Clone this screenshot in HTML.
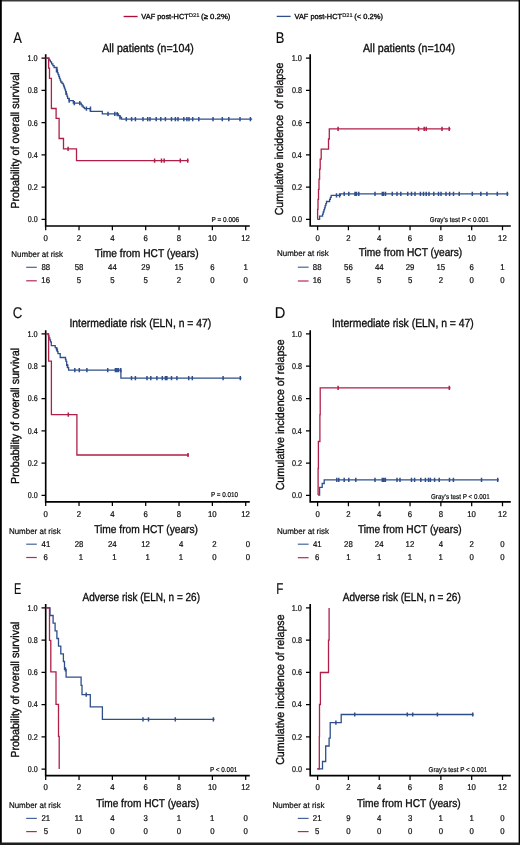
<!DOCTYPE html>
<html><head><meta charset="utf-8"><title>Figure</title>
<style>html,body{margin:0;padding:0;background:#fff;width:520px;height:845px;overflow:hidden}</style>
</head><body>
<svg width="520" height="845" viewBox="0 0 520 845" style="display:block;will-change:transform">
<g font-family='"Liberation Sans", sans-serif' fill="#0d0b0c" stroke="#0d0b0c" stroke-width="0.34" text-rendering="geometricPrecision">
<text x="141.37" y="19" font-size="7.4" textLength="47.4" lengthAdjust="spacingAndGlyphs">VAF post-HCT</text>
<text x="188.82" y="16.5" font-size="5.3" textLength="10.66" lengthAdjust="spacingAndGlyphs" stroke-width="0.15">D21</text>
<text x="201.12" y="19" font-size="7.4" textLength="29.26" lengthAdjust="spacingAndGlyphs">(≥ 0.2%)</text>
<text x="294.57" y="19" font-size="7.4" textLength="47.4" lengthAdjust="spacingAndGlyphs">VAF post-HCT</text>
<text x="342.24" y="16.5" font-size="5.3" textLength="10.34" lengthAdjust="spacingAndGlyphs" stroke-width="0.15">D21</text>
<text x="354.33" y="19" font-size="7.4" textLength="28.63" lengthAdjust="spacingAndGlyphs">(&lt; 0.2%)</text>
<text x="13.27" y="42.5" font-size="15.5" textLength="8.65" lengthAdjust="spacingAndGlyphs" stroke-width="0.12">A</text>
<text x="275.84" y="42.5" font-size="15.5" textLength="8.65" lengthAdjust="spacingAndGlyphs" stroke-width="0.12">B</text>
<text x="12.63" y="317.5" font-size="15.5" textLength="9.58" lengthAdjust="spacingAndGlyphs" stroke-width="0.12">C</text>
<text x="274.8" y="317.5" font-size="15.5" textLength="10.61" lengthAdjust="spacingAndGlyphs" stroke-width="0.12">D</text>
<text x="14.11" y="593.6" font-size="15.5" textLength="7.26" lengthAdjust="spacingAndGlyphs" stroke-width="0.12">E</text>
<text x="276.24" y="593.6" font-size="15.5" textLength="7.12" lengthAdjust="spacingAndGlyphs" stroke-width="0.12">F</text>
<text x="102.18" y="51.9" font-size="11.7" textLength="91.68" lengthAdjust="spacingAndGlyphs">All patients (n=104)</text>
<text x="362.98" y="51.9" font-size="11.7" textLength="91.98" lengthAdjust="spacingAndGlyphs">All patients (n=104)</text>
<text x="69.44" y="326.8" font-size="11.7" textLength="141.9" lengthAdjust="spacingAndGlyphs">Intermediate risk (ELN, n = 47)</text>
<text x="331.94" y="326.8" font-size="11.7" textLength="141.9" lengthAdjust="spacingAndGlyphs">Intermediate risk (ELN, n = 47)</text>
<text x="82.48" y="601" font-size="11.7" textLength="117.54" lengthAdjust="spacingAndGlyphs">Adverse risk (ELN, n = 26)</text>
<text x="342.68" y="601" font-size="11.7" textLength="118.14" lengthAdjust="spacingAndGlyphs">Adverse risk (ELN, n = 26)</text>
<text transform="translate(18.95,207.9) rotate(-90)" x="-0.88" y="0" font-size="11.6" textLength="136.5" lengthAdjust="spacingAndGlyphs">Probability of overall survival</text>
<text transform="translate(282.9,214.8) rotate(-90)" x="-0.54" y="0" font-size="11.6" textLength="152.71" lengthAdjust="spacingAndGlyphs">Cumulative incidence  of relapse</text>
<text transform="translate(18.95,483.1) rotate(-90)" x="-0.88" y="0" font-size="11.6" textLength="136" lengthAdjust="spacingAndGlyphs">Probability of overall survival</text>
<text transform="translate(283.8,489.8) rotate(-90)" x="-0.54" y="0" font-size="11.6" textLength="150.91" lengthAdjust="spacingAndGlyphs">Cumulative incidence of relapse</text>
<text transform="translate(18.95,756.9) rotate(-90)" x="-0.88" y="0" font-size="11.6" textLength="136.2" lengthAdjust="spacingAndGlyphs">Probability of overall survival</text>
<text transform="translate(283.8,764.3) rotate(-90)" x="-0.54" y="0" font-size="11.6" textLength="150.41" lengthAdjust="spacingAndGlyphs">Cumulative incidence of relapse</text>
<text x="94.67" y="256.5" font-size="11.4" textLength="103.96" lengthAdjust="spacingAndGlyphs">Time from HCT (years)</text>
<text x="358.77" y="255.6" font-size="11.4" textLength="103.45" lengthAdjust="spacingAndGlyphs">Time from HCT (years)</text>
<text x="94.17" y="533" font-size="11.4" textLength="103.86" lengthAdjust="spacingAndGlyphs">Time from HCT (years)</text>
<text x="357.97" y="532.8" font-size="11.4" textLength="103.66" lengthAdjust="spacingAndGlyphs">Time from HCT (years)</text>
<text x="96.17" y="807" font-size="11.4" textLength="103.05" lengthAdjust="spacingAndGlyphs">Time from HCT (years)</text>
<text x="356.97" y="807.2" font-size="11.4" textLength="103.66" lengthAdjust="spacingAndGlyphs">Time from HCT (years)</text>
<text x="11.35" y="256.8" font-size="8.2" textLength="51.74" lengthAdjust="spacingAndGlyphs" stroke-width="0.2">Number at risk</text>
<text x="277.05" y="256" font-size="8.2" textLength="51.74" lengthAdjust="spacingAndGlyphs" stroke-width="0.2">Number at risk</text>
<text x="8.95" y="533.8" font-size="8.2" textLength="51.74" lengthAdjust="spacingAndGlyphs" stroke-width="0.2">Number at risk</text>
<text x="276.94" y="533.8" font-size="8.2" textLength="52.15" lengthAdjust="spacingAndGlyphs" stroke-width="0.2">Number at risk</text>
<text x="8.95" y="807.6" font-size="8.2" textLength="51.74" lengthAdjust="spacingAndGlyphs" stroke-width="0.2">Number at risk</text>
<text x="272.44" y="807.6" font-size="8.2" textLength="51.94" lengthAdjust="spacingAndGlyphs" stroke-width="0.2">Number at risk</text>
<text x="211.47" y="222.1" font-size="7" textLength="27.71" lengthAdjust="spacingAndGlyphs" stroke-width="0.2">P = 0.006</text>
<text x="210.88" y="497" font-size="7" textLength="27.27" lengthAdjust="spacingAndGlyphs" stroke-width="0.2">P = 0.010</text>
<text x="209.98" y="771.8" font-size="7" textLength="27.23" lengthAdjust="spacingAndGlyphs" stroke-width="0.2">P &lt; 0.001</text>
<text x="429.78" y="222" font-size="7" textLength="59.13" lengthAdjust="spacingAndGlyphs" stroke-width="0.2">Gray’s test P &lt; 0.001</text>
<text x="430.98" y="498.8" font-size="7" textLength="58.72" lengthAdjust="spacingAndGlyphs" stroke-width="0.2">Gray’s test P &lt; 0.001</text>
<text x="428.59" y="772" font-size="7" textLength="58.62" lengthAdjust="spacingAndGlyphs" stroke-width="0.2">Gray’s test P &lt; 0.001</text>
<path d="M45.7 54.2V225.95H249.8" fill="none" stroke="#000" stroke-width="1.65"/>
<text x="27.72" y="222.25" font-size="8.4" textLength="9.96" lengthAdjust="spacingAndGlyphs" stroke-width="0.22">0.0</text>
<text x="27.72" y="190.01" font-size="8.4" textLength="10.05" lengthAdjust="spacingAndGlyphs" stroke-width="0.22">0.2</text>
<text x="27.72" y="157.77" font-size="8.4" textLength="9.89" lengthAdjust="spacingAndGlyphs" stroke-width="0.22">0.4</text>
<text x="27.72" y="125.53" font-size="8.4" textLength="10" lengthAdjust="spacingAndGlyphs" stroke-width="0.22">0.6</text>
<text x="27.72" y="93.29" font-size="8.4" textLength="9.99" lengthAdjust="spacingAndGlyphs" stroke-width="0.22">0.8</text>
<text x="27.44" y="61.05" font-size="8.4" textLength="10.25" lengthAdjust="spacingAndGlyphs" stroke-width="0.22">1.0</text>
<text x="43.53" y="241.3" font-size="8.4" textLength="4.34" lengthAdjust="spacingAndGlyphs" stroke-width="0.22">0</text>
<text x="76.86" y="241.3" font-size="8.4" textLength="4.34" lengthAdjust="spacingAndGlyphs" stroke-width="0.22">2</text>
<text x="110.22" y="241.3" font-size="8.4" textLength="4.34" lengthAdjust="spacingAndGlyphs" stroke-width="0.22">4</text>
<text x="143.5" y="241.3" font-size="8.4" textLength="4.34" lengthAdjust="spacingAndGlyphs" stroke-width="0.22">6</text>
<text x="176.86" y="241.3" font-size="8.4" textLength="4.34" lengthAdjust="spacingAndGlyphs" stroke-width="0.22">8</text>
<text x="207.88" y="241.3" font-size="8.4" textLength="8.69" lengthAdjust="spacingAndGlyphs" stroke-width="0.22">10</text>
<text x="241.25" y="241.3" font-size="8.4" textLength="8.69" lengthAdjust="spacingAndGlyphs" stroke-width="0.22">12</text>
<path d="M41.5 219.4H45.7M41.5 187.16H45.7M41.5 154.92H45.7M41.5 122.68H45.7M41.5 90.44H45.7M41.5 58.2H45.7M45.7 225.95V230.25M79.03 225.95V230.25M112.37 225.95V230.25M145.7 225.95V230.25M179.03 225.95V230.25M212.37 225.95V230.25M245.7 225.95V230.25" stroke="#000" stroke-width="1.25" fill="none"/>
<path d="M26.2 267.3H36.8" stroke="#46639f" stroke-width="1.2"/>
<path d="M26.2 280.8H36.8" stroke="#b52a52" stroke-width="1.2"/>
<text x="41.46" y="269.7" font-size="8.4" textLength="8.69" lengthAdjust="spacingAndGlyphs" stroke-width="0.22">88</text>
<text x="41.33" y="283" font-size="8.4" textLength="8.69" lengthAdjust="spacingAndGlyphs" stroke-width="0.22">16</text>
<text x="74.7" y="269.7" font-size="8.4" textLength="8.69" lengthAdjust="spacingAndGlyphs" stroke-width="0.22">58</text>
<text x="76.87" y="283" font-size="8.4" textLength="4.34" lengthAdjust="spacingAndGlyphs" stroke-width="0.22">5</text>
<text x="108.05" y="269.7" font-size="8.4" textLength="8.69" lengthAdjust="spacingAndGlyphs" stroke-width="0.22">44</text>
<text x="110.2" y="283" font-size="8.4" textLength="4.34" lengthAdjust="spacingAndGlyphs" stroke-width="0.22">5</text>
<text x="141.34" y="269.7" font-size="8.4" textLength="8.69" lengthAdjust="spacingAndGlyphs" stroke-width="0.22">29</text>
<text x="143.54" y="283" font-size="8.4" textLength="4.34" lengthAdjust="spacingAndGlyphs" stroke-width="0.22">5</text>
<text x="174.56" y="269.7" font-size="8.4" textLength="8.69" lengthAdjust="spacingAndGlyphs" stroke-width="0.22">15</text>
<text x="176.86" y="283" font-size="8.4" textLength="4.34" lengthAdjust="spacingAndGlyphs" stroke-width="0.22">2</text>
<text x="210.17" y="269.7" font-size="8.4" textLength="4.34" lengthAdjust="spacingAndGlyphs" stroke-width="0.22">6</text>
<text x="210.19" y="283" font-size="8.4" textLength="4.34" lengthAdjust="spacingAndGlyphs" stroke-width="0.22">0</text>
<text x="243.42" y="269.7" font-size="8.4" textLength="4.34" lengthAdjust="spacingAndGlyphs" stroke-width="0.22">1</text>
<text x="243.53" y="283" font-size="8.4" textLength="4.34" lengthAdjust="spacingAndGlyphs" stroke-width="0.22">0</text>
<path d="M310.2 54.2V225.95H510.8" fill="none" stroke="#000" stroke-width="1.65"/>
<text x="291.92" y="222.25" font-size="8.4" textLength="9.96" lengthAdjust="spacingAndGlyphs" stroke-width="0.22">0.0</text>
<text x="291.92" y="190.01" font-size="8.4" textLength="10.05" lengthAdjust="spacingAndGlyphs" stroke-width="0.22">0.2</text>
<text x="291.92" y="157.77" font-size="8.4" textLength="9.89" lengthAdjust="spacingAndGlyphs" stroke-width="0.22">0.4</text>
<text x="291.92" y="125.53" font-size="8.4" textLength="10" lengthAdjust="spacingAndGlyphs" stroke-width="0.22">0.6</text>
<text x="291.92" y="93.29" font-size="8.4" textLength="9.99" lengthAdjust="spacingAndGlyphs" stroke-width="0.22">0.8</text>
<text x="291.64" y="61.05" font-size="8.4" textLength="10.25" lengthAdjust="spacingAndGlyphs" stroke-width="0.22">1.0</text>
<text x="315.43" y="241.3" font-size="8.4" textLength="4.34" lengthAdjust="spacingAndGlyphs" stroke-width="0.22">0</text>
<text x="346.24" y="241.3" font-size="8.4" textLength="4.34" lengthAdjust="spacingAndGlyphs" stroke-width="0.22">2</text>
<text x="377.09" y="241.3" font-size="8.4" textLength="4.34" lengthAdjust="spacingAndGlyphs" stroke-width="0.22">4</text>
<text x="407.85" y="241.3" font-size="8.4" textLength="4.34" lengthAdjust="spacingAndGlyphs" stroke-width="0.22">6</text>
<text x="438.69" y="241.3" font-size="8.4" textLength="4.34" lengthAdjust="spacingAndGlyphs" stroke-width="0.22">8</text>
<text x="467.19" y="241.3" font-size="8.4" textLength="8.69" lengthAdjust="spacingAndGlyphs" stroke-width="0.22">10</text>
<text x="498.05" y="241.3" font-size="8.4" textLength="8.69" lengthAdjust="spacingAndGlyphs" stroke-width="0.22">12</text>
<path d="M306 219.4H310.2M306 187.16H310.2M306 154.92H310.2M306 122.68H310.2M306 90.44H310.2M306 58.2H310.2M317.6 225.95V230.25M348.42 225.95V230.25M379.23 225.95V230.25M410.05 225.95V230.25M440.87 225.95V230.25M471.68 225.95V230.25M502.5 225.95V230.25" stroke="#000" stroke-width="1.25" fill="none"/>
<path d="M297.8 267.2H308.6" stroke="#46639f" stroke-width="1.2"/>
<path d="M297.8 281H308.6" stroke="#b52a52" stroke-width="1.2"/>
<text x="312.86" y="269.6" font-size="8.4" textLength="8.69" lengthAdjust="spacingAndGlyphs" stroke-width="0.22">88</text>
<text x="312.73" y="283.2" font-size="8.4" textLength="8.69" lengthAdjust="spacingAndGlyphs" stroke-width="0.22">16</text>
<text x="344.09" y="269.6" font-size="8.4" textLength="8.69" lengthAdjust="spacingAndGlyphs" stroke-width="0.22">56</text>
<text x="346.25" y="283.2" font-size="8.4" textLength="4.34" lengthAdjust="spacingAndGlyphs" stroke-width="0.22">5</text>
<text x="374.91" y="269.6" font-size="8.4" textLength="8.69" lengthAdjust="spacingAndGlyphs" stroke-width="0.22">44</text>
<text x="377.07" y="283.2" font-size="8.4" textLength="4.34" lengthAdjust="spacingAndGlyphs" stroke-width="0.22">5</text>
<text x="405.69" y="269.6" font-size="8.4" textLength="8.69" lengthAdjust="spacingAndGlyphs" stroke-width="0.22">29</text>
<text x="407.89" y="283.2" font-size="8.4" textLength="4.34" lengthAdjust="spacingAndGlyphs" stroke-width="0.22">5</text>
<text x="436.39" y="269.6" font-size="8.4" textLength="8.69" lengthAdjust="spacingAndGlyphs" stroke-width="0.22">15</text>
<text x="438.69" y="283.2" font-size="8.4" textLength="4.34" lengthAdjust="spacingAndGlyphs" stroke-width="0.22">2</text>
<text x="469.48" y="269.6" font-size="8.4" textLength="4.34" lengthAdjust="spacingAndGlyphs" stroke-width="0.22">6</text>
<text x="469.51" y="283.2" font-size="8.4" textLength="4.34" lengthAdjust="spacingAndGlyphs" stroke-width="0.22">0</text>
<text x="500.22" y="269.6" font-size="8.4" textLength="4.34" lengthAdjust="spacingAndGlyphs" stroke-width="0.22">1</text>
<text x="500.33" y="283.2" font-size="8.4" textLength="4.34" lengthAdjust="spacingAndGlyphs" stroke-width="0.22">0</text>
<path d="M45.7 330.3V501.8H249.8" fill="none" stroke="#000" stroke-width="1.65"/>
<text x="27.72" y="498.25" font-size="8.4" textLength="9.96" lengthAdjust="spacingAndGlyphs" stroke-width="0.22">0.0</text>
<text x="27.72" y="465.95" font-size="8.4" textLength="10.05" lengthAdjust="spacingAndGlyphs" stroke-width="0.22">0.2</text>
<text x="27.72" y="433.65" font-size="8.4" textLength="9.89" lengthAdjust="spacingAndGlyphs" stroke-width="0.22">0.4</text>
<text x="27.72" y="401.35" font-size="8.4" textLength="10" lengthAdjust="spacingAndGlyphs" stroke-width="0.22">0.6</text>
<text x="27.72" y="369.05" font-size="8.4" textLength="9.99" lengthAdjust="spacingAndGlyphs" stroke-width="0.22">0.8</text>
<text x="27.44" y="336.75" font-size="8.4" textLength="10.25" lengthAdjust="spacingAndGlyphs" stroke-width="0.22">1.0</text>
<text x="43.53" y="516.8" font-size="8.4" textLength="4.34" lengthAdjust="spacingAndGlyphs" stroke-width="0.22">0</text>
<text x="76.86" y="516.8" font-size="8.4" textLength="4.34" lengthAdjust="spacingAndGlyphs" stroke-width="0.22">2</text>
<text x="110.22" y="516.8" font-size="8.4" textLength="4.34" lengthAdjust="spacingAndGlyphs" stroke-width="0.22">4</text>
<text x="143.5" y="516.8" font-size="8.4" textLength="4.34" lengthAdjust="spacingAndGlyphs" stroke-width="0.22">6</text>
<text x="176.86" y="516.8" font-size="8.4" textLength="4.34" lengthAdjust="spacingAndGlyphs" stroke-width="0.22">8</text>
<text x="207.88" y="516.8" font-size="8.4" textLength="8.69" lengthAdjust="spacingAndGlyphs" stroke-width="0.22">10</text>
<text x="241.25" y="516.8" font-size="8.4" textLength="8.69" lengthAdjust="spacingAndGlyphs" stroke-width="0.22">12</text>
<path d="M41.5 495.4H45.7M41.5 463.1H45.7M41.5 430.8H45.7M41.5 398.5H45.7M41.5 366.2H45.7M41.5 333.9H45.7M45.7 501.8V506.1M79.03 501.8V506.1M112.37 501.8V506.1M145.7 501.8V506.1M179.03 501.8V506.1M212.37 501.8V506.1M245.7 501.8V506.1" stroke="#000" stroke-width="1.25" fill="none"/>
<path d="M26.2 544.2H36.8" stroke="#46639f" stroke-width="1.2"/>
<path d="M26.2 557.5H36.8" stroke="#b52a52" stroke-width="1.2"/>
<text x="41.56" y="546.6" font-size="8.4" textLength="8.69" lengthAdjust="spacingAndGlyphs" stroke-width="0.22">41</text>
<text x="43.6" y="559.7" font-size="8.4" textLength="4.34" lengthAdjust="spacingAndGlyphs" stroke-width="0.22">6</text>
<text x="74.66" y="546.6" font-size="8.4" textLength="8.69" lengthAdjust="spacingAndGlyphs" stroke-width="0.22">28</text>
<text x="78.85" y="559.7" font-size="8.4" textLength="4.34" lengthAdjust="spacingAndGlyphs" stroke-width="0.22">1</text>
<text x="107.94" y="546.6" font-size="8.4" textLength="8.69" lengthAdjust="spacingAndGlyphs" stroke-width="0.22">24</text>
<text x="112.19" y="559.7" font-size="8.4" textLength="4.34" lengthAdjust="spacingAndGlyphs" stroke-width="0.22">1</text>
<text x="141.25" y="546.6" font-size="8.4" textLength="8.69" lengthAdjust="spacingAndGlyphs" stroke-width="0.22">12</text>
<text x="145.52" y="559.7" font-size="8.4" textLength="4.34" lengthAdjust="spacingAndGlyphs" stroke-width="0.22">1</text>
<text x="178.99" y="546.6" font-size="8.4" textLength="4.34" lengthAdjust="spacingAndGlyphs" stroke-width="0.22">4</text>
<text x="178.85" y="559.7" font-size="8.4" textLength="4.34" lengthAdjust="spacingAndGlyphs" stroke-width="0.22">1</text>
<text x="212.29" y="546.6" font-size="8.4" textLength="4.34" lengthAdjust="spacingAndGlyphs" stroke-width="0.22">2</text>
<text x="212.29" y="559.7" font-size="8.4" textLength="4.34" lengthAdjust="spacingAndGlyphs" stroke-width="0.22">0</text>
<text x="245.63" y="546.6" font-size="8.4" textLength="4.34" lengthAdjust="spacingAndGlyphs" stroke-width="0.22">0</text>
<text x="245.63" y="559.7" font-size="8.4" textLength="4.34" lengthAdjust="spacingAndGlyphs" stroke-width="0.22">0</text>
<path d="M310.2 330.3V501.9H510.8" fill="none" stroke="#000" stroke-width="1.65"/>
<text x="291.92" y="498.25" font-size="8.4" textLength="9.96" lengthAdjust="spacingAndGlyphs" stroke-width="0.22">0.0</text>
<text x="291.92" y="465.95" font-size="8.4" textLength="10.05" lengthAdjust="spacingAndGlyphs" stroke-width="0.22">0.2</text>
<text x="291.92" y="433.65" font-size="8.4" textLength="9.89" lengthAdjust="spacingAndGlyphs" stroke-width="0.22">0.4</text>
<text x="291.92" y="401.35" font-size="8.4" textLength="10" lengthAdjust="spacingAndGlyphs" stroke-width="0.22">0.6</text>
<text x="291.92" y="369.05" font-size="8.4" textLength="9.99" lengthAdjust="spacingAndGlyphs" stroke-width="0.22">0.8</text>
<text x="291.64" y="336.75" font-size="8.4" textLength="10.25" lengthAdjust="spacingAndGlyphs" stroke-width="0.22">1.0</text>
<text x="315.43" y="516.8" font-size="8.4" textLength="4.34" lengthAdjust="spacingAndGlyphs" stroke-width="0.22">0</text>
<text x="346.24" y="516.8" font-size="8.4" textLength="4.34" lengthAdjust="spacingAndGlyphs" stroke-width="0.22">2</text>
<text x="377.09" y="516.8" font-size="8.4" textLength="4.34" lengthAdjust="spacingAndGlyphs" stroke-width="0.22">4</text>
<text x="407.85" y="516.8" font-size="8.4" textLength="4.34" lengthAdjust="spacingAndGlyphs" stroke-width="0.22">6</text>
<text x="438.69" y="516.8" font-size="8.4" textLength="4.34" lengthAdjust="spacingAndGlyphs" stroke-width="0.22">8</text>
<text x="467.19" y="516.8" font-size="8.4" textLength="8.69" lengthAdjust="spacingAndGlyphs" stroke-width="0.22">10</text>
<text x="498.05" y="516.8" font-size="8.4" textLength="8.69" lengthAdjust="spacingAndGlyphs" stroke-width="0.22">12</text>
<path d="M306 495.4H310.2M306 463.1H310.2M306 430.8H310.2M306 398.5H310.2M306 366.2H310.2M306 333.9H310.2M317.6 501.9V506.2M348.42 501.9V506.2M379.23 501.9V506.2M410.05 501.9V506.2M440.87 501.9V506.2M471.68 501.9V506.2M502.5 501.9V506.2" stroke="#000" stroke-width="1.25" fill="none"/>
<path d="M297.8 544.2H308.6" stroke="#46639f" stroke-width="1.2"/>
<path d="M297.8 557.7H308.6" stroke="#b52a52" stroke-width="1.2"/>
<text x="312.96" y="546.6" font-size="8.4" textLength="8.69" lengthAdjust="spacingAndGlyphs" stroke-width="0.22">41</text>
<text x="315" y="559.9" font-size="8.4" textLength="4.34" lengthAdjust="spacingAndGlyphs" stroke-width="0.22">6</text>
<text x="344.05" y="546.6" font-size="8.4" textLength="8.69" lengthAdjust="spacingAndGlyphs" stroke-width="0.22">28</text>
<text x="346.14" y="559.9" font-size="8.4" textLength="4.34" lengthAdjust="spacingAndGlyphs" stroke-width="0.22">1</text>
<text x="374.81" y="546.6" font-size="8.4" textLength="8.69" lengthAdjust="spacingAndGlyphs" stroke-width="0.22">24</text>
<text x="376.95" y="559.9" font-size="8.4" textLength="4.34" lengthAdjust="spacingAndGlyphs" stroke-width="0.22">1</text>
<text x="405.6" y="546.6" font-size="8.4" textLength="8.69" lengthAdjust="spacingAndGlyphs" stroke-width="0.22">12</text>
<text x="407.77" y="559.9" font-size="8.4" textLength="4.34" lengthAdjust="spacingAndGlyphs" stroke-width="0.22">1</text>
<text x="438.72" y="546.6" font-size="8.4" textLength="4.34" lengthAdjust="spacingAndGlyphs" stroke-width="0.22">4</text>
<text x="438.59" y="559.9" font-size="8.4" textLength="4.34" lengthAdjust="spacingAndGlyphs" stroke-width="0.22">1</text>
<text x="469.51" y="546.6" font-size="8.4" textLength="4.34" lengthAdjust="spacingAndGlyphs" stroke-width="0.22">2</text>
<text x="469.51" y="559.9" font-size="8.4" textLength="4.34" lengthAdjust="spacingAndGlyphs" stroke-width="0.22">0</text>
<text x="500.33" y="546.6" font-size="8.4" textLength="4.34" lengthAdjust="spacingAndGlyphs" stroke-width="0.22">0</text>
<text x="500.33" y="559.9" font-size="8.4" textLength="4.34" lengthAdjust="spacingAndGlyphs" stroke-width="0.22">0</text>
<path d="M45.7 603.9V775.6H249.8" fill="none" stroke="#000" stroke-width="1.65"/>
<text x="27.72" y="771.95" font-size="8.4" textLength="9.96" lengthAdjust="spacingAndGlyphs" stroke-width="0.22">0.0</text>
<text x="27.72" y="739.69" font-size="8.4" textLength="10.05" lengthAdjust="spacingAndGlyphs" stroke-width="0.22">0.2</text>
<text x="27.72" y="707.43" font-size="8.4" textLength="9.89" lengthAdjust="spacingAndGlyphs" stroke-width="0.22">0.4</text>
<text x="27.72" y="675.17" font-size="8.4" textLength="10" lengthAdjust="spacingAndGlyphs" stroke-width="0.22">0.6</text>
<text x="27.72" y="642.91" font-size="8.4" textLength="9.99" lengthAdjust="spacingAndGlyphs" stroke-width="0.22">0.8</text>
<text x="27.44" y="610.65" font-size="8.4" textLength="10.25" lengthAdjust="spacingAndGlyphs" stroke-width="0.22">1.0</text>
<text x="43.53" y="790.4" font-size="8.4" textLength="4.34" lengthAdjust="spacingAndGlyphs" stroke-width="0.22">0</text>
<text x="76.86" y="790.4" font-size="8.4" textLength="4.34" lengthAdjust="spacingAndGlyphs" stroke-width="0.22">2</text>
<text x="110.22" y="790.4" font-size="8.4" textLength="4.34" lengthAdjust="spacingAndGlyphs" stroke-width="0.22">4</text>
<text x="143.5" y="790.4" font-size="8.4" textLength="4.34" lengthAdjust="spacingAndGlyphs" stroke-width="0.22">6</text>
<text x="176.86" y="790.4" font-size="8.4" textLength="4.34" lengthAdjust="spacingAndGlyphs" stroke-width="0.22">8</text>
<text x="207.88" y="790.4" font-size="8.4" textLength="8.69" lengthAdjust="spacingAndGlyphs" stroke-width="0.22">10</text>
<text x="241.25" y="790.4" font-size="8.4" textLength="8.69" lengthAdjust="spacingAndGlyphs" stroke-width="0.22">12</text>
<path d="M41.5 769.1H45.7M41.5 736.84H45.7M41.5 704.58H45.7M41.5 672.32H45.7M41.5 640.06H45.7M41.5 607.8H45.7M45.7 775.6V779.9M79.03 775.6V779.9M112.37 775.6V779.9M145.7 775.6V779.9M179.03 775.6V779.9M212.37 775.6V779.9M245.7 775.6V779.9" stroke="#000" stroke-width="1.25" fill="none"/>
<path d="M26.2 818.4H36.8" stroke="#46639f" stroke-width="1.2"/>
<path d="M26.2 831.6H36.8" stroke="#b52a52" stroke-width="1.2"/>
<text x="41.45" y="820.8" font-size="8.4" textLength="8.69" lengthAdjust="spacingAndGlyphs" stroke-width="0.22">21</text>
<text x="43.64" y="833.8" font-size="8.4" textLength="4.34" lengthAdjust="spacingAndGlyphs" stroke-width="0.22">5</text>
<text x="74.58" y="820.8" font-size="8.4" textLength="8.69" lengthAdjust="spacingAndGlyphs" stroke-width="0.22">11</text>
<text x="76.86" y="833.8" font-size="8.4" textLength="4.34" lengthAdjust="spacingAndGlyphs" stroke-width="0.22">0</text>
<text x="110.22" y="820.8" font-size="8.4" textLength="4.34" lengthAdjust="spacingAndGlyphs" stroke-width="0.22">4</text>
<text x="110.19" y="833.8" font-size="8.4" textLength="4.34" lengthAdjust="spacingAndGlyphs" stroke-width="0.22">0</text>
<text x="143.55" y="820.8" font-size="8.4" textLength="4.34" lengthAdjust="spacingAndGlyphs" stroke-width="0.22">3</text>
<text x="143.53" y="833.8" font-size="8.4" textLength="4.34" lengthAdjust="spacingAndGlyphs" stroke-width="0.22">0</text>
<text x="176.75" y="820.8" font-size="8.4" textLength="4.34" lengthAdjust="spacingAndGlyphs" stroke-width="0.22">1</text>
<text x="176.86" y="833.8" font-size="8.4" textLength="4.34" lengthAdjust="spacingAndGlyphs" stroke-width="0.22">0</text>
<text x="210.09" y="820.8" font-size="8.4" textLength="4.34" lengthAdjust="spacingAndGlyphs" stroke-width="0.22">1</text>
<text x="210.19" y="833.8" font-size="8.4" textLength="4.34" lengthAdjust="spacingAndGlyphs" stroke-width="0.22">0</text>
<text x="243.53" y="820.8" font-size="8.4" textLength="4.34" lengthAdjust="spacingAndGlyphs" stroke-width="0.22">0</text>
<text x="243.53" y="833.8" font-size="8.4" textLength="4.34" lengthAdjust="spacingAndGlyphs" stroke-width="0.22">0</text>
<path d="M310.2 603.9V775.6H510.8" fill="none" stroke="#000" stroke-width="1.65"/>
<text x="291.92" y="771.95" font-size="8.4" textLength="9.96" lengthAdjust="spacingAndGlyphs" stroke-width="0.22">0.0</text>
<text x="291.92" y="739.69" font-size="8.4" textLength="10.05" lengthAdjust="spacingAndGlyphs" stroke-width="0.22">0.2</text>
<text x="291.92" y="707.43" font-size="8.4" textLength="9.89" lengthAdjust="spacingAndGlyphs" stroke-width="0.22">0.4</text>
<text x="291.92" y="675.17" font-size="8.4" textLength="10" lengthAdjust="spacingAndGlyphs" stroke-width="0.22">0.6</text>
<text x="291.92" y="642.91" font-size="8.4" textLength="9.99" lengthAdjust="spacingAndGlyphs" stroke-width="0.22">0.8</text>
<text x="291.64" y="610.65" font-size="8.4" textLength="10.25" lengthAdjust="spacingAndGlyphs" stroke-width="0.22">1.0</text>
<text x="315.43" y="790.4" font-size="8.4" textLength="4.34" lengthAdjust="spacingAndGlyphs" stroke-width="0.22">0</text>
<text x="346.24" y="790.4" font-size="8.4" textLength="4.34" lengthAdjust="spacingAndGlyphs" stroke-width="0.22">2</text>
<text x="377.09" y="790.4" font-size="8.4" textLength="4.34" lengthAdjust="spacingAndGlyphs" stroke-width="0.22">4</text>
<text x="407.85" y="790.4" font-size="8.4" textLength="4.34" lengthAdjust="spacingAndGlyphs" stroke-width="0.22">6</text>
<text x="438.69" y="790.4" font-size="8.4" textLength="4.34" lengthAdjust="spacingAndGlyphs" stroke-width="0.22">8</text>
<text x="467.19" y="790.4" font-size="8.4" textLength="8.69" lengthAdjust="spacingAndGlyphs" stroke-width="0.22">10</text>
<text x="498.05" y="790.4" font-size="8.4" textLength="8.69" lengthAdjust="spacingAndGlyphs" stroke-width="0.22">12</text>
<path d="M306 769.1H310.2M306 736.84H310.2M306 704.58H310.2M306 672.32H310.2M306 640.06H310.2M306 607.8H310.2M317.6 775.6V779.9M348.42 775.6V779.9M379.23 775.6V779.9M410.05 775.6V779.9M440.87 775.6V779.9M471.68 775.6V779.9M502.5 775.6V779.9" stroke="#000" stroke-width="1.25" fill="none"/>
<path d="M297.8 818.4H308.6" stroke="#46639f" stroke-width="1.2"/>
<path d="M297.8 831.6H308.6" stroke="#b52a52" stroke-width="1.2"/>
<text x="312.85" y="820.8" font-size="8.4" textLength="8.69" lengthAdjust="spacingAndGlyphs" stroke-width="0.22">21</text>
<text x="315.04" y="833.8" font-size="8.4" textLength="4.34" lengthAdjust="spacingAndGlyphs" stroke-width="0.22">5</text>
<text x="346.25" y="820.8" font-size="8.4" textLength="4.34" lengthAdjust="spacingAndGlyphs" stroke-width="0.22">9</text>
<text x="346.24" y="833.8" font-size="8.4" textLength="4.34" lengthAdjust="spacingAndGlyphs" stroke-width="0.22">0</text>
<text x="377.09" y="820.8" font-size="8.4" textLength="4.34" lengthAdjust="spacingAndGlyphs" stroke-width="0.22">4</text>
<text x="377.06" y="833.8" font-size="8.4" textLength="4.34" lengthAdjust="spacingAndGlyphs" stroke-width="0.22">0</text>
<text x="407.9" y="820.8" font-size="8.4" textLength="4.34" lengthAdjust="spacingAndGlyphs" stroke-width="0.22">3</text>
<text x="407.88" y="833.8" font-size="8.4" textLength="4.34" lengthAdjust="spacingAndGlyphs" stroke-width="0.22">0</text>
<text x="438.59" y="820.8" font-size="8.4" textLength="4.34" lengthAdjust="spacingAndGlyphs" stroke-width="0.22">1</text>
<text x="438.69" y="833.8" font-size="8.4" textLength="4.34" lengthAdjust="spacingAndGlyphs" stroke-width="0.22">0</text>
<text x="469.4" y="820.8" font-size="8.4" textLength="4.34" lengthAdjust="spacingAndGlyphs" stroke-width="0.22">1</text>
<text x="469.51" y="833.8" font-size="8.4" textLength="4.34" lengthAdjust="spacingAndGlyphs" stroke-width="0.22">0</text>
<text x="500.33" y="820.8" font-size="8.4" textLength="4.34" lengthAdjust="spacingAndGlyphs" stroke-width="0.22">0</text>
<text x="500.33" y="833.8" font-size="8.4" textLength="4.34" lengthAdjust="spacingAndGlyphs" stroke-width="0.22">0</text>
</g>
<g stroke-linejoin="miter" stroke-linecap="butt">
<path d="M45.7 58.2H47.8H49.06V60.06H50.32V61.92H51.58V63.78H52.84V65.64H54.1V67.5H56.5H57V70.15H57.5V72.8H58.16V74.64H58.82V76.48H59.48V78.32H60.14V80.16H60.8V82H62V83.4H63.2V84.8H63.8V86.5H64.4V88.2H65V89.9H65.6V91.6H66.27V93.83H66.93V96.07H67.6V98.3H69.2V100.7H73.3V103.1H80.5H81.25V104.55H82V106H83.2V107.35H84.4V108.7H90.3V111.3H102.3V113.8H117H118.5V115.6H120V117.4H121.5V119.2H252.2" fill="none" stroke="#2f4f8c" stroke-width="1.3"/>
<path d="M56.5 68.3V72.5M66.1 90.9V95.1M69.2 98.6V102.8M74.3 101V105.2M79.8 101V105.2M86.4 106.6V110.8M90.5 106.6V110.8M108 111.7V115.9M114.8 111.7V115.9M117.2 112.1V116.3M120 115.4V119.6M126.3 117.1V121.3M131.6 117.1V121.3M135.4 117.1V121.3M143 117.1V121.3M147.7 117.1V121.3M150 117.1V121.3M156.2 117.1V121.3M160.8 117.1V121.3M165.4 117.1V121.3M171.5 117.1V121.3M175.4 117.1V121.3M178 117.1V121.3M183.8 117.1V121.3M186.9 117.1V121.3M189 117.1V121.3M192.7 117.1V121.3M198.8 117.1V121.3M213 117.1V121.3M222.3 117.1V121.3M228.8 117.1V121.3M240 117.1V121.3M250.4 117.1V121.3" stroke="#2f4f8c" stroke-width="1.5" fill="none"/>
<path d="M45.7 58.2H48.6V68.2H49.5V78.4H51.4V108.5H56.1V118.4H59.1V138.5H63.5V148.8H76.5V160.7H188.6" fill="none" stroke="#b01f47" stroke-width="1.3"/>
<path d="M68.1 146.7V150.9M154.6 158.6V162.8M161.5 158.6V162.8M164.2 158.6V162.8M180.3 158.6V162.8M187.7 158.6V162.8" stroke="#b01f47" stroke-width="1.5" fill="none"/>
<path d="M317.6 219.4H319.6V216.2H321.9H322.56V214.1H323.21V212H323.87V209.9H324.53V207.8H325.19V205.7H325.84V203.6H326.5V201.5H328.8H329.6V199.47H330.4V197.43H331.2V195.4H340.4V193.9H508.5" fill="none" stroke="#2f4f8c" stroke-width="1.3"/>
<path d="M336.5 193.3V197.5M339.6 193.3V197.5M344.2 191.8V196M348.8 191.8V196M355 191.8V196M356.5 191.8V196M358.8 191.8V196M375 191.8V196M382.3 191.8V196M383.5 191.8V196M385.5 191.8V196M392.3 191.8V196M397 191.8V196M400.8 191.8V196M407.7 191.8V196M411.5 191.8V196M415 191.8V196M420.4 191.8V196M423.5 191.8V196M426.2 191.8V196M429 191.8V196M433.8 191.8V196M438.5 191.8V196M441 191.8V196M446 191.8V196M449.6 191.8V196M453.5 191.8V196M459.2 191.8V196M472.3 191.8V196M480.8 191.8V196M486.9 191.8V196M497.3 191.8V196M507.3 191.8V196" stroke="#2f4f8c" stroke-width="1.5" fill="none"/>
<path d="M317.6 219.4V209.4H318V199.3H318.5V189.3H319V179.2H319.6V169.2H320.2V159.1H321.2V149.1H328.5V139H329.3V128.9H450.6" fill="none" stroke="#b01f47" stroke-width="1.3"/>
<path d="M338.1 126.8V131M418.5 126.8V131M424.2 126.8V131M426.2 126.8V131M442 126.8V131M449.2 126.8V131" stroke="#b01f47" stroke-width="1.5" fill="none"/>
<path d="M45.8 333.9H48.4V335.9H49V337.8H49.8V339.8H50.5V341.8H51.3V345.7H55.2V347.6H56.4V349.6H57.5V351.6H58V353.6H60.2V357.5H65.5V359.5H66V361.4H66.7V365.4H67.6V367.7H68.6V370.1H120.9V378.1H241.5" fill="none" stroke="#2f4f8c" stroke-width="1.3"/>
<path d="M57 347.4V351.6M67.5 363.9V368.1M74.8 368V372.2M79.3 368V372.2M86.9 368V372.2M107.7 368V372.2M115.4 368V372.2M116.9 368V372.2M118.5 368V372.2M120.8 368V372.2M131.5 376V380.2M135.4 376V380.2M147 376V380.2M150.8 376V380.2M156.9 376V380.2M162.3 376V380.2M165.4 376V380.2M166.9 376V380.2M171.5 376V380.2M176.9 376V380.2M188.7 376V380.2M192.3 376V380.2M223.1 376V380.2M240.3 376V380.2" stroke="#2f4f8c" stroke-width="1.5" fill="none"/>
<path d="M45.8 333.9H48.6V361.2H51.4V414.6H76.9V455H188.8" fill="none" stroke="#b01f47" stroke-width="1.3"/>
<path d="M68.3 412.5V416.7M188 452.9V457.1" stroke="#b01f47" stroke-width="1.5" fill="none"/>
<path d="M318.1 495.1H319.6V487.4H322.2V483.5H324.2V479.9H498.8" fill="none" stroke="#2f4f8c" stroke-width="1.3"/>
<path d="M336.8 477.8V482M338.8 477.8V482M344.2 477.8V482M348.8 477.8V482M355.8 477.8V482M375 477.8V482M382.3 477.8V482M383.8 477.8V482M385.4 477.8V482M397 477.8V482M400 477.8V482M411.5 477.8V482M414.6 477.8V482M420.8 477.8V482M425.4 477.8V482M428.5 477.8V482M430.4 477.8V482M434.6 477.8V482M439.2 477.8V482M449.5 477.8V482M453.4 477.8V482M481.5 477.8V482M497.7 477.8V482" stroke="#2f4f8c" stroke-width="1.5" fill="none"/>
<path d="M318.1 495.1V468.5H318.4V441.5H319.9V414.6H320.2V387.8H450.6" fill="none" stroke="#b01f47" stroke-width="1.3"/>
<path d="M338.1 385.7V389.9M449.3 385.7V389.9" stroke="#b01f47" stroke-width="1.5" fill="none"/>
<path d="M45.8 607.8H50V615.5H53.1V623.2H55.1V630.8H56.9V638.5H58.5V646.2H60.8V653.9H63.4V661.5H64.5V669.3H66.1V677.2H81.1V685.4H82V694.6H90.3V706.8H102.4V719.3H214.5" fill="none" stroke="#2f4f8c" stroke-width="1.3"/>
<path d="M65.4 667.2V671.4M86.2 692.5V696.7M143 717.2V721.4M148.5 717.2V721.4M175.3 717.2V721.4M213.4 717.2V721.4" stroke="#2f4f8c" stroke-width="1.5" fill="none"/>
<path d="M45.8 607.8H49.5V640.3H50.8V671.9H56V704.4H58.5V736.4H59.2V768.9" fill="none" stroke="#b01f47" stroke-width="1.3"/>
<path d="M317.4 768.9H322.5V761.5H325.7V746H329.1V738.2H330.2V722.6H341.2V714.5H473.6" fill="none" stroke="#2f4f8c" stroke-width="1.3"/>
<path d="M335.9 720.5V724.7M354.7 712.4V716.6M407.3 712.4V716.6M412.7 712.4V716.6M437.4 712.4V716.6M472.7 712.4V716.6" stroke="#2f4f8c" stroke-width="1.5" fill="none"/>
<path d="M317.4 768.9H319.3V736.5H319.5V704.5H320.4V672.5H328.5V640.2H329.1V608.1" fill="none" stroke="#b01f47" stroke-width="1.3"/>
<path d="M123.6 16.5H137.6" stroke="#ad0f3a" stroke-width="1.35"/>
<path d="M276.7 16.4H290.6" stroke="#2f4f8c" stroke-width="1.3"/>
</g>
<rect x="0" y="0" width="520" height="1.5" fill="#3a3a3a"/>
<rect x="0" y="0" width="1.8" height="845" fill="#000"/>
<rect x="518.6" y="0" width="1.4" height="845" fill="#000"/>
<rect x="0" y="842.5" width="520" height="2.5" fill="#1e1e1e"/>
</svg>
</body></html>
